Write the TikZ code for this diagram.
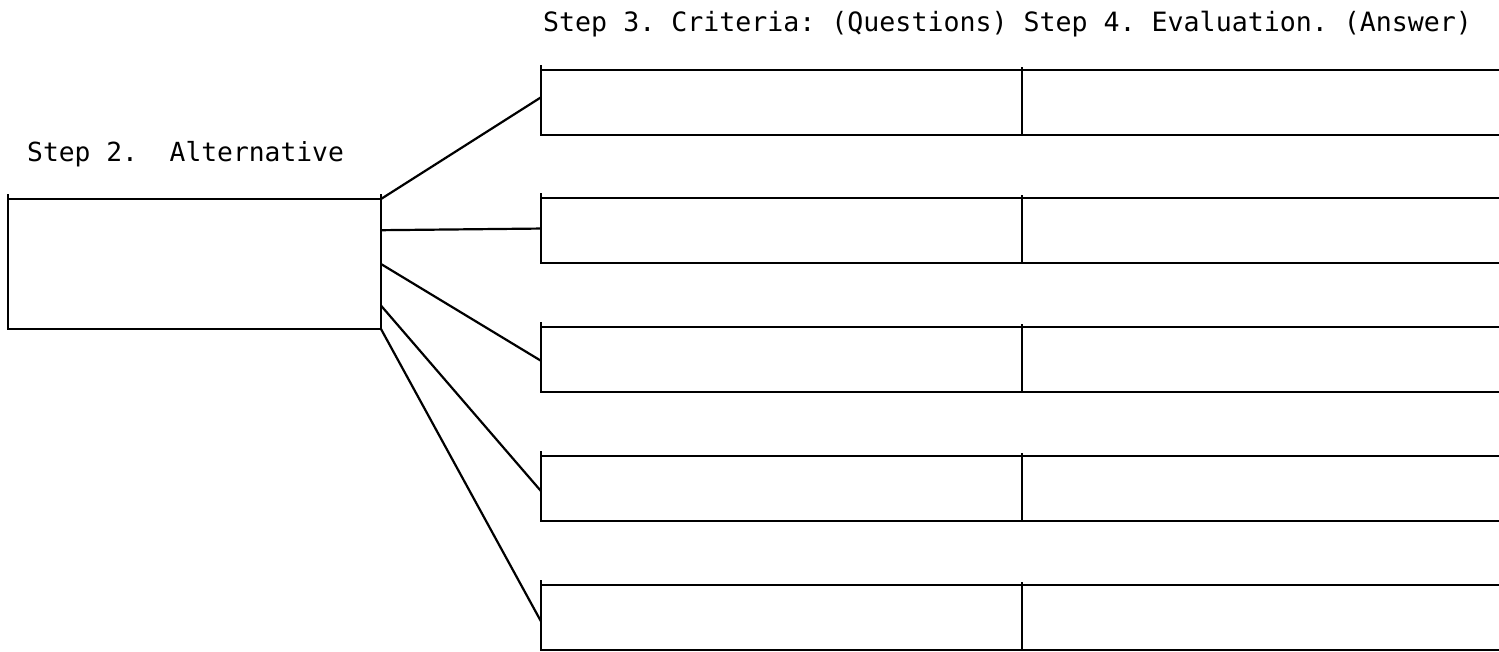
\documentclass[tikz,border=0pt]{standalone}
\usepackage{fontspec}
\setmonofont{DejaVu Sans Mono}
\usetikzlibrary{calc}
\tikzset{
  cell/.style={draw, line width=2.4pt, inner sep=0pt, outer sep=0pt, anchor=north west},
  opencell/.style={inner sep=0pt, outer sep=0pt, anchor=north west, minimum width=477pt, minimum height=65pt},
  link/.style={line width=2.2pt},
  tick/.style={line width=2.2pt},
  label/.style={font=\ttfamily\fontsize{26.6}{32}\selectfont, inner sep=0pt, anchor=base west}
}
\begin{document}
\begin{tikzpicture}[x=1pt,y=-1pt]
\useasboundingbox (0,0) rectangle (1499,652);
\node[label, font=\ttfamily\fontsize{26.3}{32}\selectfont] (t2) at (27,162) {Step 2.\ \ Alternative};
\node[label] (t34) at (543,32) {Step 3. Criteria: (Questions) Step 4. Evaluation. (Answer)};
\node[cell, minimum width=373pt, minimum height=130pt] (alt) at (8,199) {};
\draw[tick] (alt.north west) -- ++(0,-5);
\draw[tick] (alt.north east) -- ++(0,-5);
\foreach \i/\t in {1/70,2/198,3/327,4/456,5/585}{
  \node[cell, minimum width=481pt, minimum height=65pt] (c\i) at (541,\t) {};
  \node[opencell] (e\i) at (1022,\t) {};
  \draw[line width=2.4pt] (c\i.north east) -- (e\i.north east);
  \draw[line width=2.4pt] (c\i.south east) -- (e\i.south east);
  \draw[tick] (c\i.north west) -- ++(0,-5);
  \draw[tick] (c\i.north east) -- ++(0,-3);
}
\coordinate (s1) at (alt.north east);
\coordinate (s2) at ($(alt.north east)!0.24!(alt.south east)$);
\coordinate (s3) at ($(alt.north east)!0.50!(alt.south east)$);
\coordinate (s4) at ($(alt.north east)!0.82!(alt.south east)$);
\coordinate (s5) at (alt.south east);
\draw[link] (s1) -- ($(c1.north west)!0.42!(c1.south west)$);
\draw[link] (s2) -- ($(c2.north west)!0.47!(c2.south west)$);
\draw[link] (s3) -- ($(c3.north west)!0.52!(c3.south west)$);
\draw[link] (s4) -- ($(c4.north west)!0.54!(c4.south west)$);
\draw[link] (s5) -- ($(c5.north west)!0.56!(c5.south west)$);
\end{tikzpicture}
\end{document}
